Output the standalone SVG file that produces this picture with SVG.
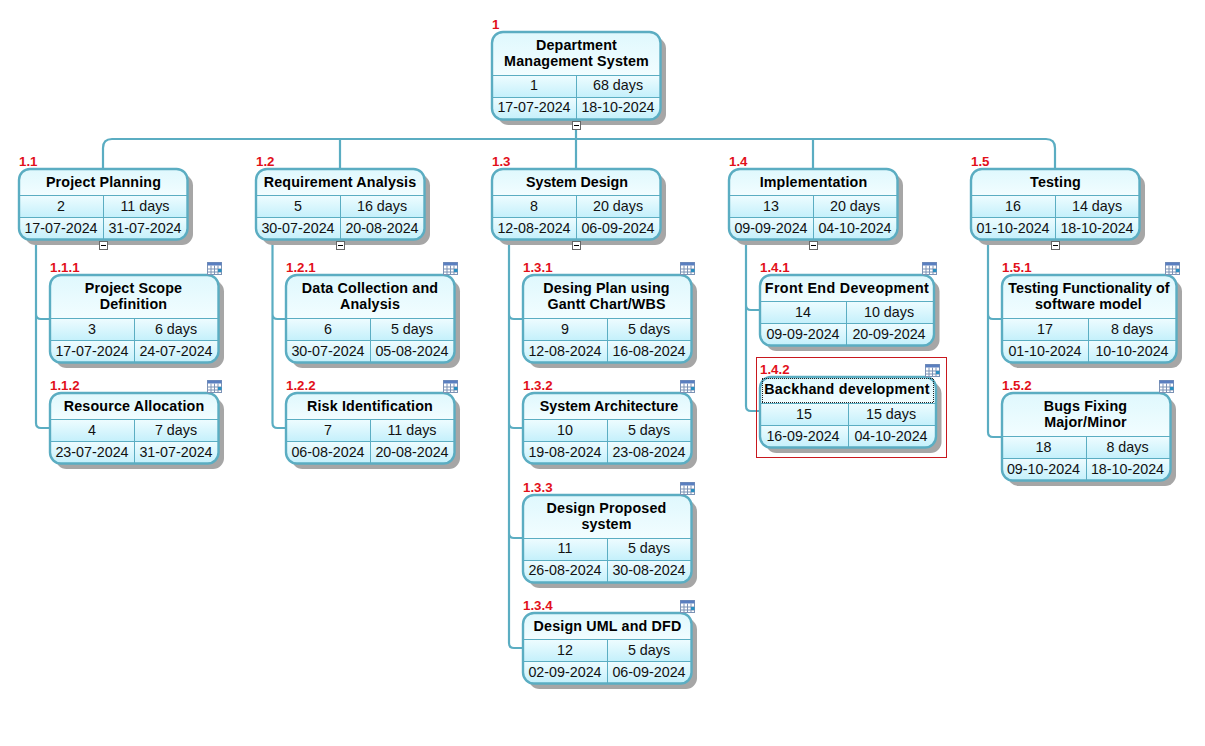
<svg xmlns="http://www.w3.org/2000/svg" width="1205" height="746" viewBox="0 0 1205 746">
<style>
text{font-family:"Liberation Sans",Arial,sans-serif;font-size:14.3px;text-anchor:middle;fill:#111}
.t{font-weight:bold;letter-spacing:.15px;fill:#000}
.n{font-weight:bold;font-size:13.3px;text-anchor:start;fill:#e2101a;stroke:none}
.o{fill:none;stroke:#5badc2;stroke-width:2.4}
.l{stroke:#5badc2;stroke-width:1;fill:none}
.s{fill:#a6a6a6}
.h{fill:url(#gh)}
.c{fill:url(#gc)}
.conn{fill:none;stroke:#5badc2;stroke-width:2.2}
</style>
<defs>
<linearGradient id="gh" x1="0" y1="0" x2="0" y2="1"><stop offset="0" stop-color="#dff8fd"/><stop offset="1" stop-color="#f2fdff"/></linearGradient>
<linearGradient id="gc" x1="0" y1="0" x2="0" y2="1"><stop offset="0" stop-color="#eefcff"/><stop offset="1" stop-color="#c4f0fb"/></linearGradient>
<clipPath id="c168a"><rect width="168.500" height="70.500" rx="11"/></clipPath>
<clipPath id="c168b"><rect width="168.500" height="87.500" rx="11"/></clipPath>
<clipPath id="c174a"><rect width="174" height="70.500" rx="11"/></clipPath>
<clipPath id="c174b"><rect width="174.500" height="87.500" rx="11"/></clipPath>
<clipPath id="c176"><rect width="176" height="70.500" rx="11"/></clipPath>
<g id="body168a"><rect x="5.500" y="5.500" width="168.500" height="70.500" rx="11" class="s"/><g clip-path="url(#c168a)"><rect width="168.500" height="26.500" class="h"/><rect y="26.500" width="168.500" height="22" class="c"/><rect y="48.500" width="168.500" height="22" class="c"/></g><path class="l" d="M0 26.500H168.500M0 48.500H168.500M84.500 26V70"/><rect width="168.500" height="70.500" rx="11" class="o"/></g>
<g id="body168b"><rect x="5.500" y="5.500" width="168.500" height="87.500" rx="11" class="s"/><g clip-path="url(#c168b)"><rect width="168.500" height="43.500" class="h"/><rect y="43.500" width="168.500" height="22" class="c"/><rect y="65.500" width="168.500" height="22" class="c"/></g><path class="l" d="M0 43.500H168.500M0 65.500H168.500M84.500 43.500V87"/><rect width="168.500" height="87.500" rx="11" class="o"/></g>
<g id="body174a"><rect x="5.500" y="5.500" width="174" height="70.500" rx="11" class="s"/><g clip-path="url(#c174a)"><rect width="174" height="26.500" class="h"/><rect y="26.500" width="174" height="22" class="c"/><rect y="48.500" width="174" height="22" class="c"/></g><path class="l" d="M0 26.500H174M0 48.500H174M86.500 26V70"/><rect width="174" height="70.500" rx="11" class="o"/></g>
<g id="body174b"><rect x="5.500" y="5.500" width="174.500" height="87.500" rx="11" class="s"/><g clip-path="url(#c174b)"><rect width="174.500" height="43.500" class="h"/><rect y="43.500" width="174.500" height="22" class="c"/><rect y="65.500" width="174.500" height="22" class="c"/></g><path class="l" d="M0 43.500H174.500M0 65.500H174.500M86.500 43.500V87"/><rect width="174.500" height="87.500" rx="11" class="o"/></g>
<g id="body176"><rect x="5.500" y="5.500" width="176" height="70.500" rx="11" class="s"/><g clip-path="url(#c176)"><rect width="176" height="26.500" class="h"/><rect y="26.500" width="176" height="22" class="c"/><rect y="48.500" width="176" height="22" class="c"/></g><path class="l" d="M0 26.500H176M0 48.500H176M88.500 26V70"/><rect width="176" height="70.500" rx="11" class="o"/></g>
<g id="icon"><rect width="14" height="12" fill="#fff" stroke="#7d93b5"/><rect width="14" height="3" fill="#5a7fc0"/><path d="M0 6.500H14M0 9.500H14M3.500 3V12M7 3V12M10.500 3V12" stroke="#7d93b5" stroke-width="1"/><rect x="10.500" y="6.500" width="3.500" height="3" fill="#2a8fc0"/></g>
<g id="minus"><rect x=".5" y=".5" width="8" height="8" fill="#fff" stroke="#666"/><path d="M2 4.500H7" stroke="#000"/></g>
</defs>

<g id="connectors">
<path class="conn" d="M103 169V148Q103 139 112 139H1046Q1055 139 1055 148V169M340 139V169M576 120V169M813 139V169"/>
<path class="conn" d="M36 239V423Q36 428 41 428H50M36 314Q36 319 41 319H50"/>
<path class="conn" d="M272.500 239V423Q272.500 428 277.500 428H287M272.500 314Q272.500 319 277.500 319H287"/>
<path class="conn" d="M509 239V643Q509 648 514 648H523M509 314Q509 319 514 319H523M509 423Q509 428 514 428H523M509 533Q509 538 514 538H523"/>
<path class="conn" d="M746 239V406Q746 411 751 411H760M746 305Q746 310 751 310H760"/>
<path class="conn" d="M988 239V432Q988 437 993 437H1002M988 314Q988 319 993 319H1002"/>
</g>

<g id="n1" transform="translate(492 32)"><use href="#body168b"/>
<text class="t" x="84.500" y="18">Department</text><text class="t" x="84.500" y="34">Management System</text>
<text x="42" y="58">1</text><text x="126" y="58">68 days</text><text x="42" y="80">17-07-2024</text><text x="126" y="80">18-10-2024</text>
<text class="n" x="0" y="-3">1</text></g>
<use href="#minus" x="572" y="121"/>

<g id="n1-1" transform="translate(19 169)"><use href="#body168a"/>
<text class="t" x="84.500" y="18">Project Planning</text>
<text x="42" y="42">2</text><text x="126" y="42">11 days</text><text x="42" y="64">17-07-2024</text><text x="126" y="64">31-07-2024</text>
<text class="n" x="0" y="-3">1.1</text></g>
<use href="#minus" x="99" y="241"/>

<g id="n1-2" transform="translate(256 169)"><use href="#body168a"/>
<text class="t" x="84" y="18">Requirement Analysis</text>
<text x="42" y="42">5</text><text x="126" y="42">16 days</text><text x="42" y="64">30-07-2024</text><text x="126" y="64">20-08-2024</text>
<text class="n" x="0" y="-3">1.2</text></g>
<use href="#minus" x="336" y="241"/>

<g id="n1-3" transform="translate(492 169)"><use href="#body168a"/>
<text class="t" x="85" y="18" style="letter-spacing:-.05px">System Design</text>
<text x="42" y="42">8</text><text x="126" y="42">20 days</text><text x="42" y="64">12-08-2024</text><text x="126" y="64">06-09-2024</text>
<text class="n" x="0" y="-3">1.3</text></g>
<use href="#minus" x="572" y="241"/>

<g id="n1-4" transform="translate(729 169)"><use href="#body168a"/>
<text class="t" x="84.500" y="18">Implementation</text>
<text x="42" y="42">13</text><text x="126" y="42">20 days</text><text x="42" y="64">09-09-2024</text><text x="126" y="64">04-10-2024</text>
<text class="n" x="0" y="-3">1.4</text></g>
<use href="#minus" x="809" y="241"/>

<g id="n1-5" transform="translate(971 169)"><use href="#body168a"/>
<text class="t" x="84.500" y="18">Testing</text>
<text x="42" y="42">16</text><text x="126" y="42">14 days</text><text x="42" y="64">01-10-2024</text><text x="126" y="64">18-10-2024</text>
<text class="n" x="0" y="-3">1.5</text></g>
<use href="#minus" x="1051" y="241"/>

<g id="n1-1-1" transform="translate(50 275)"><use href="#body168b"/>
<text class="t" x="83.500" y="18">Project Scope</text><text class="t" x="83.500" y="34">Definition</text>
<text x="42" y="58.500">3</text><text x="126" y="58.500">6 days</text><text x="42" y="80.500">17-07-2024</text><text x="126" y="80.500">24-07-2024</text>
<text class="n" x="0" y="-3">1.1.1</text><use href="#icon" x="157.500" y="-12.500"/></g>

<g id="n1-1-2" transform="translate(50 393)"><use href="#body168a"/>
<text class="t" x="84" y="18">Resource Allocation</text>
<text x="42" y="42">4</text><text x="126" y="42">7 days</text><text x="42" y="64">23-07-2024</text><text x="126" y="64">31-07-2024</text>
<text class="n" x="0" y="-3">1.1.2</text><use href="#icon" x="157.500" y="-12.500"/></g>

<g id="n1-2-1" transform="translate(286 275)"><use href="#body168b"/>
<text class="t" x="84" y="18">Data Collection and</text><text class="t" x="84" y="34">Analysis</text>
<text x="42" y="58.500">6</text><text x="126" y="58.500">5 days</text><text x="42" y="80.500">30-07-2024</text><text x="126" y="80.500">05-08-2024</text>
<text class="n" x="0" y="-3">1.2.1</text><use href="#icon" x="157.500" y="-12.500"/></g>

<g id="n1-2-2" transform="translate(286 393)"><use href="#body168a"/>
<text class="t" x="84" y="18">Risk Identification</text>
<text x="42" y="42">7</text><text x="126" y="42">11 days</text><text x="42" y="64">06-08-2024</text><text x="126" y="64">20-08-2024</text>
<text class="n" x="0" y="-3">1.2.2</text><use href="#icon" x="157.500" y="-12.500"/></g>

<g id="n1-3-1" transform="translate(523 275)"><use href="#body168b"/>
<text class="t" x="83.500" y="18">Desing Plan using</text><text class="t" x="83.500" y="34">Gantt Chart/WBS</text>
<text x="42" y="58.500">9</text><text x="126" y="58.500">5 days</text><text x="42" y="80.500">12-08-2024</text><text x="126" y="80.500">16-08-2024</text>
<text class="n" x="0" y="-3">1.3.1</text><use href="#icon" x="157.500" y="-12.500"/></g>

<g id="n1-3-2" transform="translate(523 393)"><use href="#body168a"/>
<text class="t" x="86" y="18" style="letter-spacing:0">System Architecture</text>
<text x="42" y="42">10</text><text x="126" y="42">5 days</text><text x="42" y="64">19-08-2024</text><text x="126" y="64">23-08-2024</text>
<text class="n" x="0" y="-3">1.3.2</text><use href="#icon" x="157.500" y="-12.500"/></g>

<g id="n1-3-3" transform="translate(523 495)"><use href="#body168b"/>
<text class="t" x="83.500" y="18">Design Proposed</text><text class="t" x="83.500" y="34">system</text>
<text x="42" y="58">11</text><text x="126" y="58">5 days</text><text x="42" y="80">26-08-2024</text><text x="126" y="80">30-08-2024</text>
<text class="n" x="0" y="-3">1.3.3</text><use href="#icon" x="157.500" y="-12.500"/></g>

<g id="n1-3-4" transform="translate(523 613)"><use href="#body168a"/>
<text class="t" x="84.500" y="18">Design UML and DFD</text>
<text x="42" y="42">12</text><text x="126" y="42">5 days</text><text x="42" y="64">02-09-2024</text><text x="126" y="64">06-09-2024</text>
<text class="n" x="0" y="-3">1.3.4</text><use href="#icon" x="157.500" y="-12.500"/></g>

<g id="n1-4-1" transform="translate(760 275)"><use href="#body174a"/>
<text class="t" x="87" y="18" style="letter-spacing:.35px">Front End Deveopment</text>
<text x="43" y="42">14</text><text x="129" y="42">10 days</text><text x="43" y="64">09-09-2024</text><text x="129" y="64">20-09-2024</text>
<text class="n" x="0" y="-3">1.4.1</text><use href="#icon" x="162.500" y="-12.500"/></g>

<g id="n1-4-2" transform="translate(760 377)"><rect x="-3.500" y="-19.500" width="190" height="100" fill="none" stroke="#c8181e"/><use href="#body176"/>
<path d="M2 1.500H174M2 25.500H174M2.500 2V25M173.500 2V25" fill="none" stroke="#222" stroke-dasharray="1 1"/>
<text class="t" x="87" y="17" style="letter-spacing:.25px">Backhand development</text>
<text x="44" y="42">15</text><text x="131" y="42">15 days</text><text x="43" y="64">16-09-2024</text><text x="131" y="64">04-10-2024</text>
<text class="n" x="0" y="-3">1.4.2</text><use href="#icon" x="165.500" y="-12.500"/></g>

<g id="n1-5-1" transform="translate(1002 275)"><use href="#body174b"/>
<text class="t" x="87" y="18" style="letter-spacing:.05px">Testing Functionality of</text><text class="t" x="86.500" y="34">software model</text>
<text x="43" y="58.500">17</text><text x="130" y="58.500">8 days</text><text x="43" y="80.500">01-10-2024</text><text x="130" y="80.500">10-10-2024</text>
<text class="n" x="0" y="-3">1.5.1</text><use href="#icon" x="163.500" y="-12.500"/></g>

<g id="n1-5-2" transform="translate(1002 393)"><use href="#body168b"/>
<text class="t" x="83.500" y="18">Bugs Fixing</text><text class="t" x="83.500" y="34">Major/Minor</text>
<text x="41.500" y="58.500">18</text><text x="125.500" y="58.500">8 days</text><text x="41.500" y="80.500">09-10-2024</text><text x="125.500" y="80.500">18-10-2024</text>
<text class="n" x="0" y="-3">1.5.2</text><use href="#icon" x="157.500" y="-12.500"/></g>
</svg>
